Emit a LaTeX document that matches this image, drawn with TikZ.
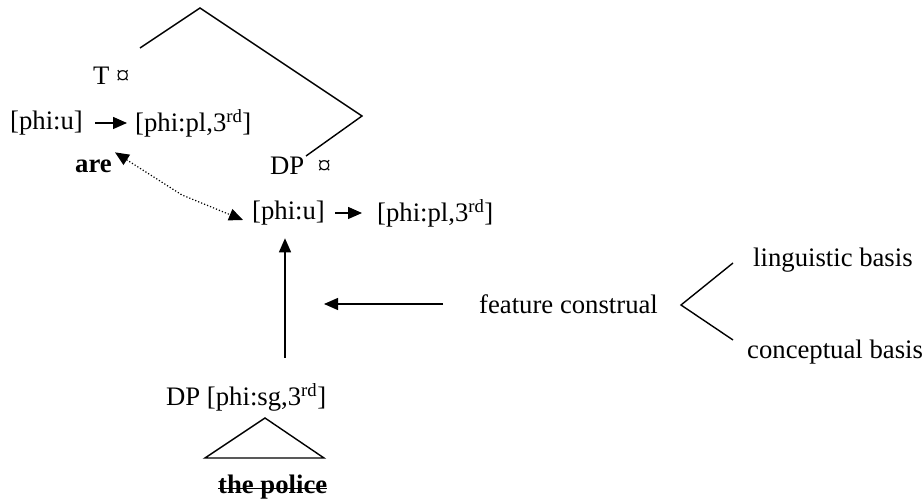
\documentclass[tikz,border=0pt]{standalone}
\usepackage{fontspec}
\setmainfont{Liberation Serif}
\usetikzlibrary{arrows.meta}

\begin{document}
\begin{tikzpicture}[
        x=1pt, y=-1pt,
        txt/.style={anchor=west, inner sep=0pt, font=\fontsize{26.7}{30}\selectfont},
        branch/.style={line width=1.4pt},
        arrow/.style={-{Triangle[length=14pt,width=12pt]}, line width=1.4pt},
        dotarrow/.style={{Triangle[length=14pt,width=12pt]}-{Triangle[length=14pt,width=12pt]}, line width=1.2pt, dotted}
    ]
        \useasboundingbox (0,0) rectangle (923,502);

        % Upper part: T and the raised DP
        \node[txt] (tnode) at (93,76) {T ¤};
        \node[txt] (phiua) at (10,123) {[phi:u]};
        \node[txt] (phipla) at (135,123) {[phi:pl,3\textsuperscript{rd}]};
        \node[txt] (are) at (75,166) {\textbf{are}};
        \node[txt] (dpnode) at (270,166) {DP~~¤};
        \node[txt] (phiub) at (252,213) {[phi:u]};
        \node[txt] (phiplb) at (377,213) {[phi:pl,3\textsuperscript{rd}]};

        % Feature construal and its two bases
        \node[txt] (feat) at (479,304) {feature construal};
        \node[txt] (ling) at (753,260) {linguistic basis};
        \node[txt] (conc) at (747,352) {conceptual basis};

        % Lower DP
        \node[txt] (dpsg) at (166,397) {DP [phi:sg,3\textsuperscript{rd}]};
        \node[txt] (police) at (218,487) {\textbf{the police}};
        \draw[branch] ([yshift=5pt]police.base west) -- ([yshift=5pt]police.base east);

        % Tree branches
        \coordinate (tend) at (140,48);
        \coordinate (troot) at (200,8);
        \coordinate (dpbar) at (362,116);
        \coordinate (dpend) at (306,156);
        \draw[branch] (tend) -- (troot) -- (dpbar) -- (dpend);

        \coordinate (fork) at (681,305);
        \coordinate (lingend) at (733,263);
        \coordinate (concend) at (733,340);
        \draw[branch] (lingend) -- (fork) -- (concend);

        \draw[branch] (265,418) -- (205,458) -- (324,458) -- cycle;

        % Arrows
        \draw[arrow, shorten <=12pt, shorten >=8pt] (phiua.east) -- (phipla.west);
        \draw[arrow, shorten <=10pt, shorten >=15pt] (phiub.east) -- (phiplb.west);
        \coordinate (vline) at (285,0);
        \draw[arrow, shorten <=25pt, shorten >=13pt] (dpsg.north -| vline) -- (phiub.south -| vline);
        \coordinate (cstr) at (324,304);
        \draw[arrow, shorten <=36pt] (feat.west) -- (cstr);
        \coordinate (dotbend) at (182,195);
        \draw[dotarrow] ([shift={(3,-7)}]are.north east) -- (dotbend) -- ([shift={(-9,7)}]phiub.west);
    \end{tikzpicture}
\end{document}
